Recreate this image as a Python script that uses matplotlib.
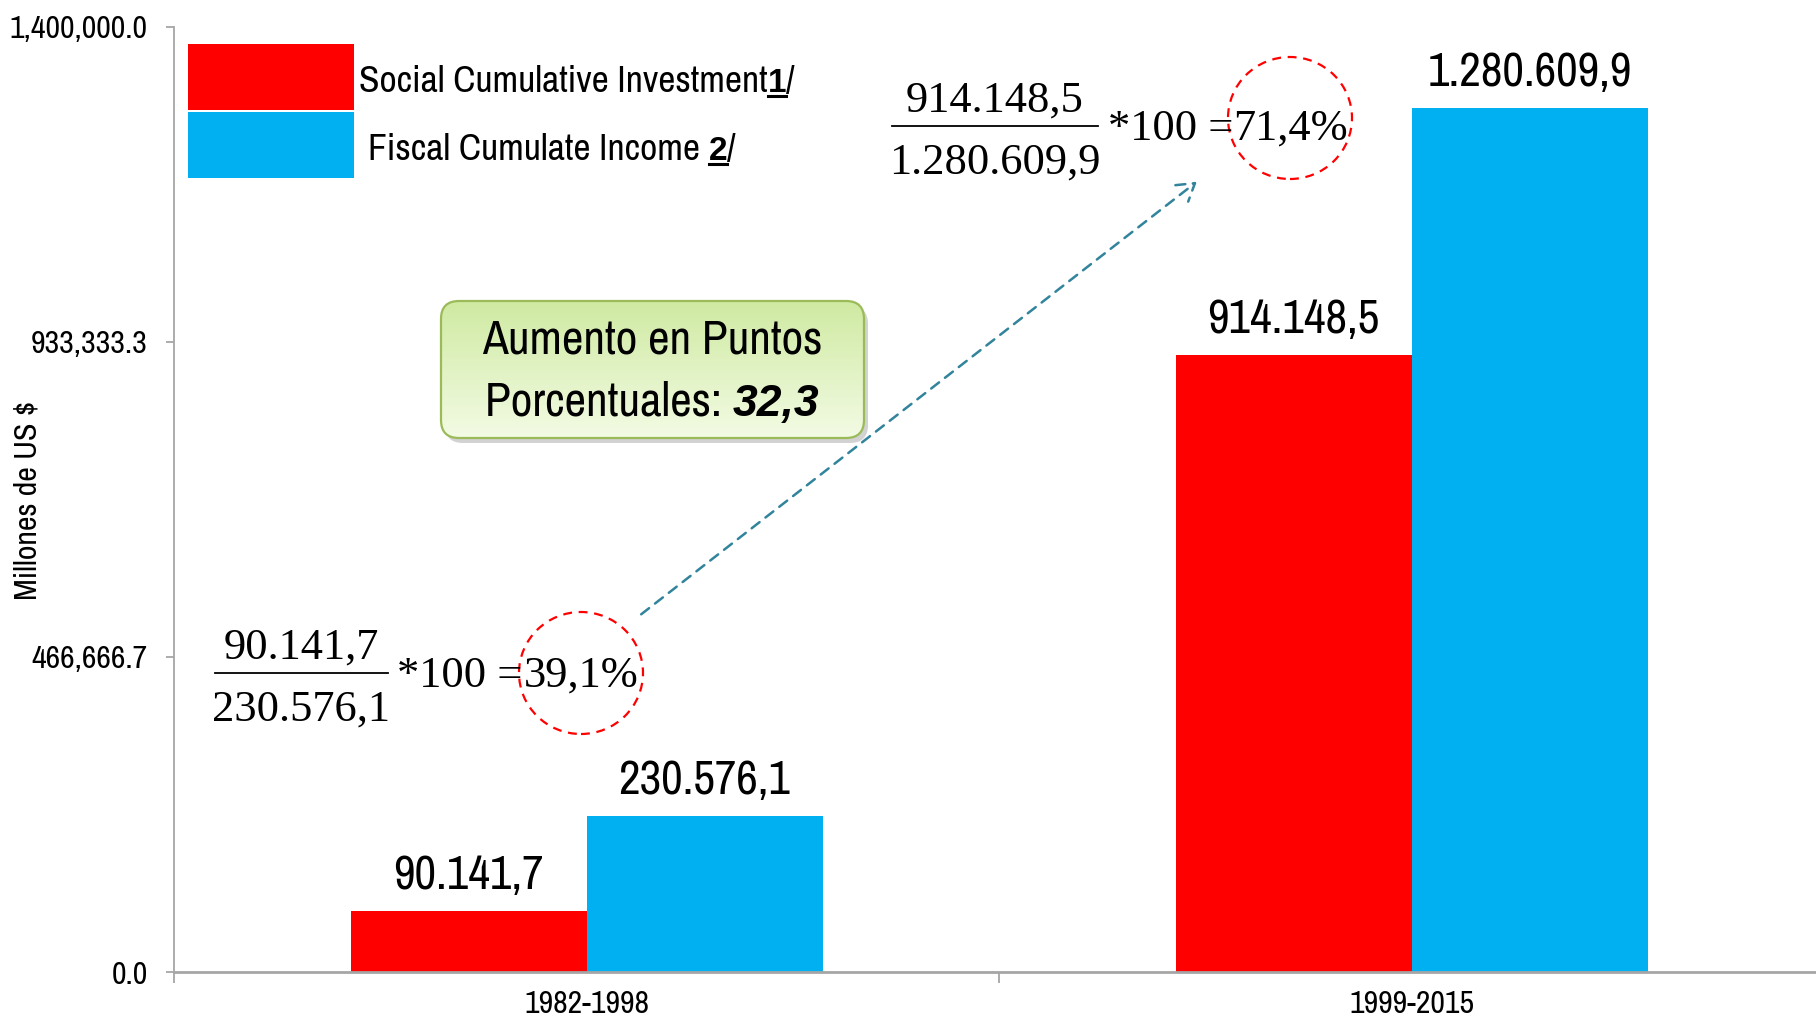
import matplotlib
matplotlib.use("Agg")
import matplotlib.pyplot as plt
import numpy as np
from matplotlib.colors import LinearSegmentedColormap
from matplotlib.lines import Line2D
from matplotlib.patches import Ellipse, FancyArrowPatch, FancyBboxPatch, Rectangle


PERIODS = ["1982-1998", "1999-2015"]
SOCIAL_INVESTMENT = [90141.7, 914148.5]
FISCAL_INCOME = [230576.1, 1280609.9]
SERIES_LABELS = ["Social Cumulative Investment", "Fiscal Cumulate Income "]
SERIES_NOTES = ["1", "2"]
Y_MAX = 1400000.0
Y_LABEL = "Millones de US $"
BOX_LINE_1 = "Aumento en Puntos"
BOX_LINE_2 = "Porcentuales: "

RED = "#FF0000"
BLUE = "#00B0F0"
AXIS_GRAY = "#A6A6A6"
ARROW_COLOR = "#31849B"
# Arial Narrow look-alike; falls back to condensed DejaVu if missing
NARROW = ["Archivo Narrow", "Liberation Sans Narrow", "DejaVu Sans"]
BOLD = ["Liberation Sans", "DejaVu Sans"]
SERIF = ["Liberation Serif", "DejaVu Serif"]

W, H = 1816, 1024
BAR_W = 0.286


def fx(px):
    return px / W


def fy(py):
    return 1 - py / H


def euro(v):
    # 1,280,609.9 -> 1.280.609,9
    return f"{v:,.1f}".replace(",", "#").replace(".", ",").replace("#", ".")


def draw_pieces(fig, renderer, x_px, base_px, pieces):
    x = x_px
    for text, kw, underline in pieces:
        t = fig.text(fx(x), fy(base_px), text, ha="left", va="baseline", **kw)
        bb = t.get_window_extent(renderer)
        if underline:
            uy = (H - base_px) - 4
            fig.add_artist(Line2D([bb.x0 / W, bb.x1 / W], [uy / H, uy / H],
                                  transform=fig.transFigure, color="black",
                                  linewidth=2.2))
        x = bb.x1


def draw_ratio(fig, num, den, line_x0, line_x1, line_y, eq_x, circle_c):
    cx = (line_x0 + line_x1) / 2
    fig.text(fx(cx), fy(line_y - 14), euro(num), ha="center", va="baseline",
             family=SERIF, fontsize=32)
    fig.text(fx(cx), fy(line_y + 48), euro(den), ha="center", va="baseline",
             family=SERIF, fontsize=32)
    fig.add_artist(Line2D([fx(line_x0), fx(line_x1)], [fy(line_y), fy(line_y)],
                          transform=fig.transFigure, color="black", linewidth=1.3))
    fig.text(fx(eq_x), fy(line_y + 14), "*100 =", ha="left", va="baseline",
             family=SERIF, fontsize=32)
    pct = num / den * 100
    fig.text(fx(circle_c[0]), fy(line_y + 14), f"{pct:.1f}%".replace(".", ","),
             ha="center", va="baseline", family=SERIF, fontsize=32)
    fig.add_artist(Ellipse((fx(circle_c[0]), fy(circle_c[1])), 124 / W, 122 / H,
                           transform=fig.transFigure, fill=False, edgecolor=RED,
                           linewidth=1.6, linestyle=(0, (4, 3))))
    return pct


fig = plt.figure(figsize=(W / 100, H / 100), dpi=100)
renderer = fig.canvas.get_renderer()
ax = fig.add_axes([fx(174), fy(972), 1 - fx(174), fy(27) - fy(972)])

x = np.arange(len(PERIODS))
bars_social = ax.bar(x - BAR_W / 2, SOCIAL_INVESTMENT, BAR_W, color=RED, zorder=2)
bars_fiscal = ax.bar(x + BAR_W / 2, FISCAL_INCOME, BAR_W, color=BLUE, zorder=2)
for bars in (bars_social, bars_fiscal):
    ax.bar_label(bars, labels=[euro(v) for v in bars.datavalues], padding=10,
                 fontsize=34, family=NARROW, fontstretch="condensed")

ax.set_xlim(-0.5, 1.49)
ax.set_ylim(0, Y_MAX)
yticks = np.linspace(0, Y_MAX, 4)
ax.set_yticks(yticks)
ax.set_yticklabels([f"{v:,.1f}" for v in yticks], family=NARROW,
                   fontstretch="condensed", fontsize=23)
ax.tick_params(axis="y", length=6, width=1.3, color=AXIS_GRAY, pad=13)

ax.set_xticks([-0.5, 0.5])
ax.set_xticklabels([])
ax.set_xticks(x, minor=True)
ax.set_xticklabels(PERIODS, minor=True, family=NARROW, fontstretch="condensed",
                   fontsize=23)
ax.tick_params(axis="x", which="major", length=8, width=1.3, color=AXIS_GRAY)
ax.tick_params(axis="x", which="minor", length=0, pad=13)

for side in ("top", "right"):
    ax.spines[side].set_visible(False)
ax.spines["left"].set_color(AXIS_GRAY)
ax.spines["left"].set_linewidth(1.3)
ax.spines["bottom"].set_color(AXIS_GRAY)
ax.spines["bottom"].set_linewidth(2.0)

fig.text(fx(28), fy(500), Y_LABEL, rotation=90, ha="center", va="center",
         family=NARROW, fontstretch="condensed", fontsize=23)

# legend, drawn by hand because of the underlined note numbers
for i, (color, label, note) in enumerate(zip([RED, BLUE], SERIES_LABELS, SERIES_NOTES)):
    top = 44 + i * 68
    fig.add_artist(Rectangle((fx(188), fy(top + 66)), 166 / W, 66 / H,
                             transform=fig.transFigure, facecolor=color,
                             edgecolor="none"))
    draw_pieces(fig, renderer, 359 + i * 9, top + 48, [
        (label, dict(family=NARROW, fontstretch="condensed", fontsize=27), False),
        (note, dict(family=BOLD, fontsize=24, fontweight="bold"), True),
        ("/", dict(family=NARROW, fontstretch="condensed", fontsize=27), False),
    ])

# ratio annotations
pct_old = draw_ratio(fig, SOCIAL_INVESTMENT[0], FISCAL_INCOME[0],
                     215, 388, 673, 397, (581, 673))
pct_new = draw_ratio(fig, SOCIAL_INVESTMENT[1], FISCAL_INCOME[1],
                     892, 1098, 126, 1108, (1290, 118))

fig.add_artist(FancyArrowPatch((fx(639), fy(616)), (fx(1199), fy(180)),
                               transform=fig.transFigure,
                               arrowstyle="->,head_length=8,head_width=5",
                               color=ARROW_COLOR, linewidth=1.8,
                               linestyle=(0, (4, 3)), mutation_scale=1.5))

# green box with gradient
bx0, by0, bx1, by1 = 432, 292, 874, 450
box_ax = fig.add_axes([fx(bx0), fy(by1), (bx1 - bx0) / W, (by1 - by0) / H])
box_ax.set_xlim(bx0, bx1)
box_ax.set_ylim(by1, by0)
box_ax.axis("off")
shadow = FancyBboxPatch((445, 306), 423, 137, boxstyle="round,pad=0,rounding_size=18",
                        facecolor="#7f7f7f", edgecolor="none", alpha=0.35)
box_ax.add_patch(shadow)
box = FancyBboxPatch((441, 301), 423, 137, boxstyle="round,pad=0,rounding_size=18",
                     facecolor="none", edgecolor="#9BBB59", linewidth=1.6, zorder=3)
box_ax.add_patch(box)
grad_cmap = LinearSegmentedColormap.from_list("g", ["#F3FBE4", "#CFEAA2"])
img = box_ax.imshow(np.linspace(0, 1, 200)[:, None], cmap=grad_cmap, aspect="auto",
                    extent=(441, 864, 438, 301), origin="lower", zorder=2)
img.set_clip_path(box)

fig.text(fx(652), fy(354), BOX_LINE_1, ha="center", va="baseline",
         family=NARROW, fontstretch="condensed", fontsize=34)
t1 = fig.text(0, fy(416), BOX_LINE_2, ha="left", va="baseline",
              family=NARROW, fontstretch="condensed", fontsize=34)
t2 = fig.text(0, fy(416), f"{pct_new - pct_old:.1f}".replace(".", ","),
              ha="left", va="baseline", family=BOLD, fontsize=32,
              fontweight="bold", fontstyle="italic")
w1 = t1.get_window_extent(renderer).width
w2 = t2.get_window_extent(renderer).width
start = 652 - (w1 + w2) / 2
t1.set_x(fx(start))
t2.set_x(fx(start + w1))

fig.savefig("out.png", dpi=100)
